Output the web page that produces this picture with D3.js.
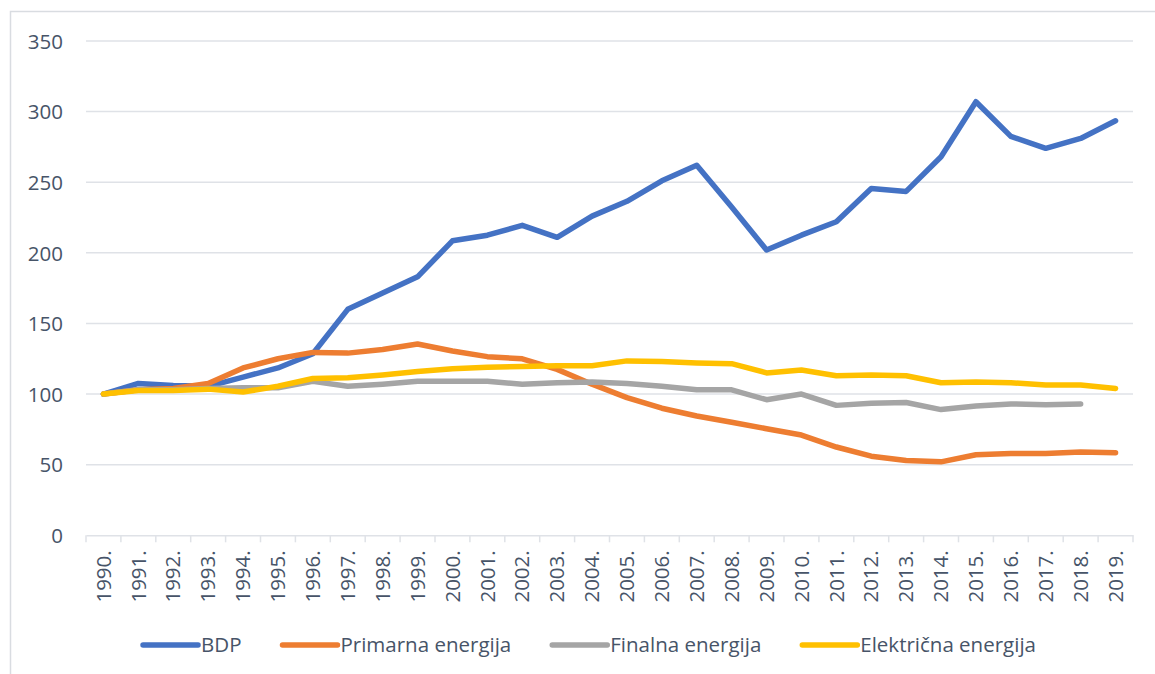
<!DOCTYPE html>
<html>
<head>
<meta charset="utf-8">
<script src="https://cdn.jsdelivr.net/npm/d3@7"></script>
<style>
  html, body { margin: 0; padding: 0; background: #fff; }
  svg { display: block; }
  text { font-family: "Open Sans", sans-serif; fill: #475468; }
</style>
</head>
<body>
<svg id="chart" width="1155" height="674"></svg>
<script>
const years = ["1990.","1991.","1992.","1993.","1994.","1995.","1996.","1997.","1998.","1999.",
  "2000.","2001.","2002.","2003.","2004.","2005.","2006.","2007.","2008.","2009.",
  "2010.","2011.","2012.","2013.","2014.","2015.","2016.","2017.","2018.","2019."];
const bdp = [100,107.5,106,105.5,112,118.5,128.5,160,171.5,183,208.5,212.5,219.5,211,226,236.5,251,262,232.5,202,212.5,222,245.5,243.5,268,307,282.5,274,281,293.5];
const primarna = [100,103,104,107.5,118.5,125,129.5,129,131.5,135.5,130.5,126.5,125,117.5,107,97.5,90,84.5,80,75.5,71,62.5,56,53,52,57,58,58,59,58.5];
const finalna = [100,103,103,104,104.5,104.5,109,105.5,107,109,109,109,107,108,108.5,107.5,105.5,103,103,96,100,92,93.5,94,89,91.5,93,92.5,93,null];
const elektricna = [100,102.5,102.5,103.5,101.5,105.5,111,111.5,113.5,116,118,119,119.5,120,120,123.5,123,122,121.5,115,117,113,113.5,113,108,108.5,108,106.5,106.5,104];
const seriesNames = ["BDP","Primarna energija","Finalna energija","Električna energija"];
const seriesColors = ["#4472C4","#ED7D31","#A5A5A5","#FFC000"];
const yTicks = [0,50,100,150,200,250,300,350];

const series = [bdp, primarna, finalna, elektricna].map((vals, i) => ({
  name: seriesNames[i], color: seriesColors[i],
  values: vals.map((v, j) => ({year: years[j], value: v}))
}));

const fs = 20.5;
const svg = d3.select("#chart");
const gridColor = "#dfe2e7";

// outer chart border
svg.append("rect").attr("x", 10.5).attr("y", 11.5).attr("width", 1170).attr("height", 700)
  .attr("fill", "none").attr("stroke", "#d9dce1").attr("stroke-width", 1.5);

const x = d3.scaleBand().domain(years).range([86, 1133]);
const y = d3.scaleLinear().domain([0, 350]).range([535.3, 41]);

// gridlines
svg.append("g").selectAll("line").data(yTicks.filter(t => t > 0)).join("line")
  .attr("x1", 86).attr("x2", 1133)
  .attr("y1", d => y(d)).attr("y2", d => y(d))
  .attr("stroke", gridColor).attr("stroke-width", 1.5);

// y axis labels
const yAxis = d3.axisLeft(y).tickValues(yTicks).tickSize(0).tickPadding(0);
const gy = svg.append("g").attr("transform", "translate(63,0)").call(yAxis);
gy.select(".domain").remove();
gy.selectAll("text").attr("font-size", fs).style("fill", "#475468")
  .attr("font-family", "Open Sans, sans-serif").attr("dy", "0.35em");

// x axis
const xAxis = d3.axisBottom(x).tickSize(0).tickPadding(0);
const gx = svg.append("g").attr("transform", `translate(0,${y(0)})`).call(xAxis);
gx.select(".domain").attr("stroke", gridColor).attr("stroke-width", 1.5);
gx.selectAll(".tick line").remove();
gx.selectAll("text")
  .attr("font-size", fs).style("fill", "#475468").attr("font-family", "Open Sans, sans-serif")
  .attr("text-anchor", "end").attr("transform", "rotate(-90)")
  .attr("x", -15).attr("y", 0).attr("dy", "0.35em");
// tick marks at category boundaries
const edges = years.map(d => x(d)).concat([x(years[years.length - 1]) + x.bandwidth()]);
gx.append("g").selectAll("line").data(edges).join("line")
  .attr("x1", d => d).attr("x2", d => d).attr("y1", 0).attr("y2", 7)
  .attr("stroke", gridColor).attr("stroke-width", 1.5);

// lines
const line = d3.line()
  .defined(d => d.value !== null)
  .x(d => x(d.year) + x.bandwidth() / 2)
  .y(d => y(d.value));
svg.append("g").selectAll("path").data(series).join("path")
  .attr("d", d => line(d.values))
  .attr("fill", "none").attr("stroke", d => d.color)
  .attr("stroke-width", 5.5).attr("stroke-linejoin", "round").attr("stroke-linecap", "round");

// legend
const legend = svg.append("g");
const swLen = 55, swGap = 3, itemGap = 41, legY = 645;
const items = legend.selectAll("g").data(series).join("g");
items.append("line").attr("x1", 0).attr("x2", swLen).attr("y1", 0).attr("y2", 0)
  .attr("stroke", d => d.color).attr("stroke-width", 5.5).attr("stroke-linecap", "round");
items.append("text").attr("x", swLen + swGap).attr("y", 0).attr("dy", "0.35em")
  .attr("font-size", fs).text(d => d.name);
let widths = [];
items.each(function() { widths.push(this.getBBox().width); });
const total = d3.sum(widths) + itemGap * (widths.length - 1);
let cx = 589.5 - total / 2;
items.attr("transform", (d, i) => {
  const t = `translate(${cx},${legY})`;
  cx += widths[i] + itemGap;
  return t;
});
</script>
</body>
</html>
